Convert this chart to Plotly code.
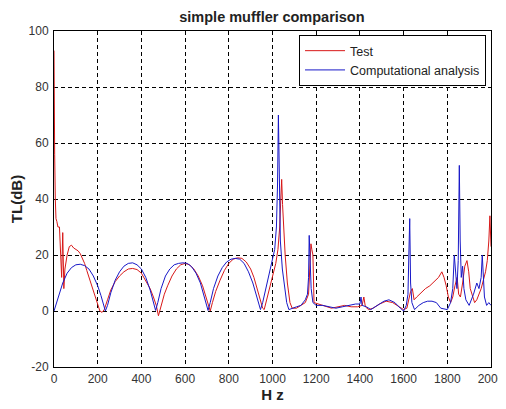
import plotly.graph_objects as go

# Test (measured) transmission loss
test_hz = [0, 1, 3, 6, 9, 13, 18, 25, 30, 35, 40, 45, 50, 60, 70, 80, 90, 100, 110, 120, 130, 140, 150,
           160, 170, 180, 190, 200, 210, 220, 230, 245, 260, 280, 300, 320, 340, 360, 380, 400, 420, 440,
           455, 468, 478, 490, 505, 520, 540, 560, 580, 600, 620, 640, 660, 680, 695, 707, 715, 725, 740,
           760, 780, 800, 820, 840, 860, 880, 900, 915, 930, 945, 955, 962, 970, 985, 1000, 1015, 1025,
           1033, 1038, 1042, 1046, 1050, 1058, 1068, 1080, 1090, 1110, 1130, 1150, 1165, 1172, 1176, 1180,
           1185, 1190, 1210, 1240, 1270, 1300, 1330, 1360, 1390, 1410, 1418, 1425, 1440, 1460, 1490, 1520,
           1550, 1580, 1600, 1615, 1625, 1632, 1640, 1648, 1660, 1680, 1700, 1720, 1740, 1760, 1775, 1785,
           1795, 1805, 1815, 1825, 1835, 1845, 1852, 1860, 1870, 1880, 1890, 1898, 1905, 1915, 1925, 1935,
           1945, 1955, 1965, 1975, 1983, 1990, 1995, 1998, 2000]
test_tl = [93, 56, 56, 40, 33, 32, 30, 30, 20, 12, 28, 8, 15, 20, 23, 23.5, 22.5, 22, 21.5, 20.5, 19, 17, 14.5,
           12, 9.5, 7, 4.5, 2, 0, -0.5, 0.5, 4, 7.5, 10.5, 12.5, 14, 15, 15.2, 14.8, 13.5, 11, 8,
           5, 2, -1.7, 2, 6, 9, 12.5, 15, 16.5, 17, 16.5, 15, 12.5, 9, 5.5, 2, 0, 3, 7,
           11, 14.5, 17, 18.5, 19, 18.8, 17.5, 15, 12, 8, 4, 1, 0.5, 3, 8, 12.5, 17, 22,
           30, 40, 47, 38, 30, 20, 10, 3, 1, 1, 2, 3, 6, 15, 24, 22,
           20, 3, 2.5, 2, 1, 1.5, 2, 1.5, 1.5, 2, 5, 1.5, 0.5, 1, 2.5, 3.5,
           3, 1.5, 0.5, 1, 5, 7, 8, 4, 5, 6.5, 8, 9, 10.5, 12, 14, 12,
           9, 5, 3, 5, 9, 12, 6, 5, 10, 16, 18, 14, 8, 5, 3, 4,
           6, 8, 11, 14, 18, 25, 34, 28, 23]

# Computational analysis
comp_hz = [0, 20, 40, 60, 80, 100, 120, 140, 160, 180, 200, 215, 228, 235, 245, 260, 280, 300, 320, 340, 360,
           380, 400, 420, 440, 455, 465, 475, 490, 510, 530, 550, 570, 590, 610, 630, 650, 670, 685, 697, 705,
           715, 730, 750, 770, 790, 810, 830, 850, 870, 890, 910, 925, 937, 945, 955, 970, 985, 1000, 1010,
           1018, 1023, 1027, 1031, 1036, 1045, 1055, 1065, 1075, 1090, 1110, 1130, 1150, 1160, 1165, 1168,
           1172, 1177, 1185, 1200, 1230, 1260, 1290, 1320, 1350, 1380, 1400, 1405, 1410, 1430, 1450, 1470,
           1490, 1510, 1533, 1560, 1585, 1600, 1612, 1620, 1624, 1628, 1632, 1638, 1650, 1670, 1690, 1710,
           1730, 1750, 1770, 1790, 1800, 1815, 1825, 1832, 1838, 1844, 1850, 1855, 1859, 1864, 1870, 1876,
           1885, 1900, 1920, 1935, 1945, 1955, 1960, 1965, 1970, 1980, 1990, 2000]
comp_tl = [0, 5, 10, 13.5, 15.5, 16.5, 16.7, 16.2, 15, 12.5, 9, 5.5, 2, 0, 2, 6.5, 11, 14, 16, 17, 17.2,
           16.5, 15, 12, 7.5, 3.5, 0.2, 3, 8, 12.5, 15, 16.5, 17, 17.2, 17, 15.8, 13.5, 10, 6, 2.5, 0.2,
           3, 8, 12.5, 15.5, 17.5, 18.5, 18.8, 18.5, 17, 14, 10, 6, 2.5, 0.5, 3, 8, 13, 18, 22,
           30, 45, 70, 40, 25, 15, 8, 3, 0.5, 1, 1.5, 2, 4, 6, 12, 27,
           20, 8, 3, 2, 2, 1.5, 1, 1.5, 2, 2.5, 2.5, 5, 2, 1.5, 0.5, 1.5,
           2.5, 3.5, 4, 3, 1, 0, 2, 6, 20, 33, 10, 3, 0.5, 2, 3, 3.5,
           3.5, 3, 1, 0.5, 0.5, 3, 8, 20, 14, 8, 18, 52, 25, 12, 16, 8,
           4, 2, 6, 10, 8, 12, 20, 10, 5, 2, 3, 2]

x_ticks = [0, 200, 400, 600, 800, 1000, 1200, 1400, 1600, 1800, 2000]
y_ticks = [-20, 0, 20, 40, 60, 80, 100]

FONT = "Liberation Sans, Arial"

fig = go.Figure()
fig.add_trace(go.Scatter(x=test_hz, y=test_tl, mode="lines", name="Test",
                         line=dict(color="#d81818", width=1)))
fig.add_trace(go.Scatter(x=comp_hz, y=comp_tl, mode="lines", name="Computational analysis",
                         line=dict(color="#1818c8", width=1)))

axis_common = dict(showline=True, linecolor="black", linewidth=1, mirror=True,
                   ticks="", automargin=False,
                   showgrid=True, gridcolor="black", gridwidth=1, griddash="4px,3px",
                   zeroline=False, tickfont=dict(family=FONT, size=12, color="#333333"))

fig.update_xaxes(range=[0, 2000], tickvals=x_ticks, ticktext=[str(v) for v in x_ticks],
                 ticklabelstandoff=1,
                 title=dict(text="<b>H z</b>", font=dict(family=FONT, size=15, color="#222"), standoff=3),
                 **axis_common)
fig.update_yaxes(range=[-20, 100], tickvals=y_ticks, ticktext=[str(v) for v in y_ticks],
                 ticklabelstandoff=2,
                 title=dict(text="<b>TL(dB)</b>", font=dict(family=FONT, size=15, color="#222"), standoff=5),
                 **axis_common)

fig.update_layout(
    width=498, height=401,
    margin=dict(l=46, r=15, t=23, b=42, autoexpand=False),
    paper_bgcolor="white", plot_bgcolor="white",
    title=dict(text="<b>simple muffler comparison</b>", x=0.530, xanchor="center", y=0.978, yanchor="middle",
               automargin=False, font=dict(family=FONT, size=14.5, color="#222")),
    legend=dict(x=0.9886, y=0.988, xanchor="right", yanchor="top", bgcolor="white",
                bordercolor="black", borderwidth=1, font=dict(family=FONT, size=12.5, color="#222"),
                tracegroupgap=0, itemwidth=40),
    showlegend=True,
)

fig.write_html("out.html")
